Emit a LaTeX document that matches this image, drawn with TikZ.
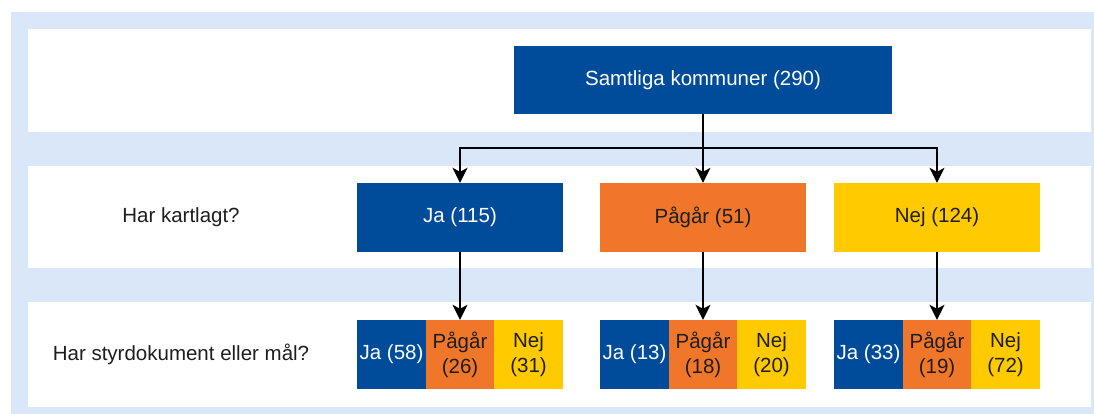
\documentclass[tikz,border=0pt]{standalone}
\usepackage{fontspec}
\setmainfont{Liberation Sans}
\usetikzlibrary{arrows.meta}
\definecolor{bandblue}{HTML}{DAE7F9}
\definecolor{kblue}{HTML}{004B9A}
\definecolor{korange}{HTML}{F07729}
\definecolor{kyellow}{HTML}{FFCB00}
\definecolor{ktext}{HTML}{1E1E1E}
\tikzset{
  box/.style={rectangle, inner sep=0pt, align=center, font=\fontsize{20.5}{25}\selectfont},
  bluebox/.style={box, fill=kblue, text=white},
  orangebox/.style={box, fill=korange, text=ktext},
  yellowbox/.style={box, fill=kyellow, text=ktext},
  bigbox/.style={minimum width=206pt, minimum height=69pt},
  cell/.style={minimum width=68.7pt, minimum height=69pt},
  rowlabel/.style={font=\fontsize{20.5}{25}\selectfont, text=ktext},
  link/.style={line width=1.5pt, draw=black},
  arrow/.style={link, -{Stealth[length=15pt, width=15pt, inset=4pt]}}
}
\begin{document}
\begin{tikzpicture}[x=1pt, y=-1pt]
\useasboundingbox (0,0) rectangle (1094,414);
% backdrop and white row bands
\fill[white] (0,0) rectangle (1094,414);
\fill[bandblue] (11,12) rectangle (1094,414);
\fill[white] (28,29) rectangle (1091,132);
\fill[white] (28,166) rectangle (1091,268);
\fill[white] (28,302) rectangle (1091,407);

% row labels
\node[rowlabel] (q1) at (181,217) {Har kartlagt?};
\node[rowlabel] (q2) at (181,354) {Har styrdokument eller mål?};

% top level
\node[bluebox, minimum width=378pt, minimum height=68pt] (all) at (703,80) {Samtliga kommuner (290)};

% second level
\node[bluebox, bigbox] (ja) at (460,217.5) {Ja (115)};
\node[orangebox, bigbox] (pa) at (703,217.5) {Pågår (51)};
\node[yellowbox, bigbox] (nej) at (937,217.5) {Nej (124)};

% third level
\node[bluebox, cell] (ja1) at (391.5,354.5) {Ja (58)};
\node[orangebox, cell] (pa1) at (460,354.5) {Pågår\\(26)};
\node[yellowbox, cell] (nej1) at (528.5,354.5) {Nej\\(31)};

\node[bluebox, cell] (ja2) at (634.5,354.5) {Ja (13)};
\node[orangebox, cell] (pa2) at (703,354.5) {Pågår\\(18)};
\node[yellowbox, cell] (nej2) at (771.5,354.5) {Nej\\(20)};

\node[bluebox, cell] (ja3) at (868.5,354.5) {Ja (33)};
\node[orangebox, cell] (pa3) at (937,354.5) {Pågår\\(19)};
\node[yellowbox, cell] (nej3) at (1005.5,354.5) {Nej\\(72)};

% connectors
\coordinate (split) at (703,148);
\draw[link] (all.south) -- (split);
\draw[arrow] (split) -- (pa.north);
\draw[arrow] (split) -| (ja.north);
\draw[arrow] (split) -| (nej.north);
\draw[arrow] (ja.south) -- (pa1.north);
\draw[arrow] (pa.south) -- (pa2.north);
\draw[arrow] (nej.south) -- (pa3.north);
\end{tikzpicture}
\end{document}
